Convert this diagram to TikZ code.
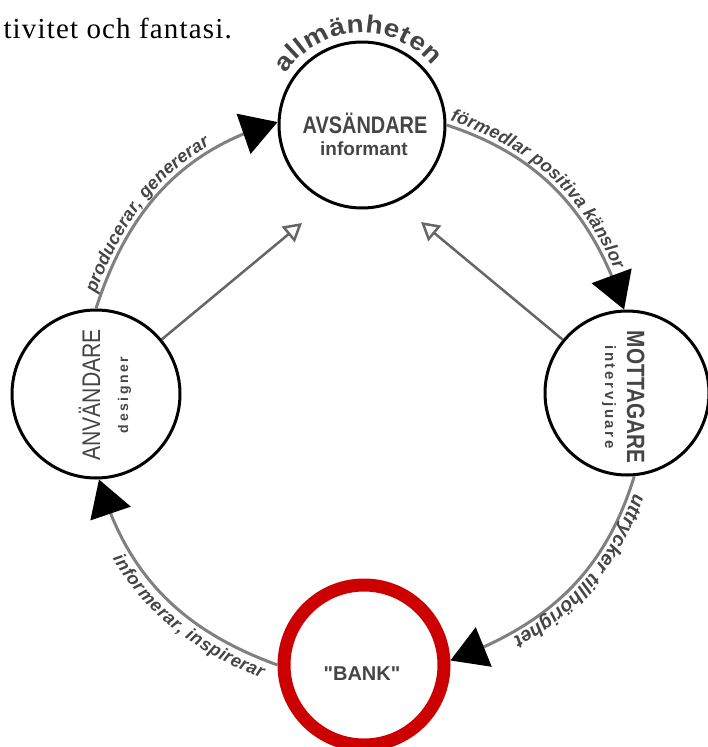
\documentclass[tikz,border=0pt]{standalone}
\usepackage{fontspec}
\setmainfont{Liberation Sans}
\newfontfamily\docfont[LetterSpace=4]{Liberation Serif}
\newfontfamily\condfont[FakeStretch=0.83]{Liberation Sans}
\newfontfamily\widefont[FakeStretch=1.12]{Liberation Sans}
\newfontfamily\spacedfont[LetterSpace=18]{Liberation Sans}
\newfontfamily\bankfont[Ligatures=TeXOff]{Liberation Sans}
\usetikzlibrary{arrows.meta,bending,decorations.text}
\definecolor{txtgray}{HTML}{454545}
\definecolor{arcgray}{HTML}{808080}
\definecolor{linegray}{HTML}{666666}
\definecolor{bankred}{HTML}{CC0000}
\newcommand{\arclab}{\color{txtgray}\bfseries\itshape\fontsize{18}{18}\selectfont}
\newcommand{\arclabb}{\color{txtgray}\bfseries\itshape\fontsize{19.5}{19.5}\selectfont}
\newcommand{\allmfont}{\color{txtgray}\widefont\bfseries\fontsize{25}{25}\selectfont}
\begin{document}
\begin{tikzpicture}[x=1pt,y=1pt,
  circ/.style={circle, draw=black, line width=3pt, inner sep=0pt, fill=white},
  bankcirc/.style={circle, draw=bankred, line width=13pt, inner sep=0pt},
  arcline/.style={draw=arcgray, line width=3pt, -{Triangle[length=36pt,width=42pt,color=black,fill=black]}},
  openarrow/.style={draw=linegray, line width=2.5pt, -{Triangle[open,length=18pt,width=20pt]}},
  txt/.style={text=txtgray, inner sep=0pt, anchor=base}]
\useasboundingbox (0,0) rectangle (708,-747);

% document text fragment
\node[anchor=base east, inner sep=0pt, font=\docfont\fontsize{29}{29}\selectfont] (doc) at (232,-38) {tivitet och fantasi.};

% circles
\node[circ, minimum size=166pt] (top) at (362,-125) {};
\node[circ, minimum size=168pt] (left) at (96,-394) {};
\node[circ, minimum size=164pt] (right) at (627,-393) {};
\node[bankcirc, minimum size=160pt] (bank) at (364,-665) {};

% texts in circles
\node[txt, font=\condfont\bfseries\fontsize{24}{24}\selectfont] (avs) at (365,-133) {AVSÄNDARE};
\node[txt, font=\bfseries\fontsize{19}{19}\selectfont] (inf) at (364,-155) {informant};
\node[txt, rotate=90, font=\condfont\fontsize{25.5}{25.5}\selectfont] (anv) at (100,-395) {ANVÄNDARE};
\node[txt, rotate=90, font=\spacedfont\bfseries\fontsize{14}{14}\selectfont] (des) at (128,-395) {designer};
\node[txt, rotate=-90, font=\condfont\bfseries\fontsize{25}{25}\selectfont] (mot) at (627,-397) {MOTTAGARE};
\node[txt, rotate=-90, font=\spacedfont\bfseries\fontsize{15}{15}\selectfont] (int) at (605,-397) {intervjuare};
\node[txt, font=\bankfont\bfseries\fontsize{20}{20}\selectfont] (banktxt) at (362,-680) {"BANK"};

% allmänheten
\path[decorate, decoration={text along path, text={|\allmfont|allmänheten}, text align=fit to path}]
  ([shift={(146:92pt)}]top.center) arc[start angle=146, end angle=40, radius=92pt];

% cycle arcs
\draw[arcline] (top.0) to[out=-18, in=108] (right.92);
\draw[arcline] (right.-85) to[out=-107, in=20] (bank.3);
\draw[arcline] (bank.180) to[out=160, in=-74] (left.-88);
\draw[arcline] (left.90) to[out=72, in=196] (top.178);

% arc labels
\path[decorate, decoration={text along path, text={|\arclab|förmedlar positiva känslor}, text align={left, left indent=2pt}, raise=5pt}]
  (top.0) to[out=-18, in=108] (right.92);
\path[decorate, decoration={text along path, text={|\arclabb|uttrycker tillhörighet}, text align={left, left indent=16pt}, raise=5pt}]
  (right.-85) to[out=-107, in=20] (bank.3);
\path[decorate, decoration={text along path, text={|\arclab|informerar, inspirerar}, text align={right, right indent=10pt}, raise=-18pt}]
  (left.-88) to[out=-74, in=160] (bank.180);
\path[decorate, decoration={text along path, text={|\arclab|producerar, genererar}, text align={left, left indent=14pt}, raise=5pt}]
  (left.90) to[out=72, in=196] (top.178);

% straight arrows
\coordinate (ltip) at (302,-223);
\coordinate (rtip) at (421,-222);
\draw[openarrow] (left) -- (ltip);
\draw[openarrow] (right) -- (rtip);
\end{tikzpicture}
\end{document}
